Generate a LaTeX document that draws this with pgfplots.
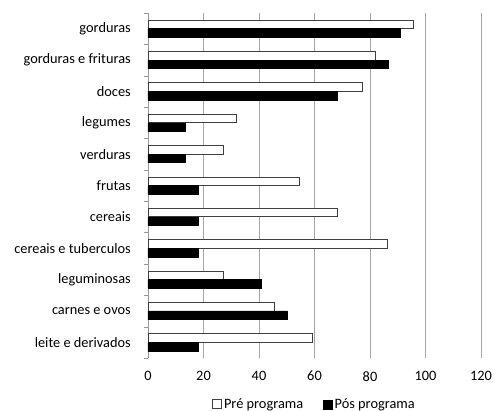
\documentclass[border=0pt]{standalone}
\usepackage{pgfplots}
\pgfplotsset{compat=1.18}
\usepackage{fontspec}
\setmainfont{Carlito}
\begin{document}
\fontsize{14.4}{17}\selectfont
\begin{tikzpicture}
\begin{axis}[
  scale only axis,
  width=333bp, height=345bp,
  xbar,
  xmin=0, xmax=120,
  ymin=-0.5, ymax=10.5,
  y dir=reverse,
  bar width=8.6bp,
  xtick={0,20,...,120},
  ytick={0,...,10},
  yticklabels={gorduras,gorduras e frituras,doces,legumes,verduras,frutas,cereais,cereais e tuberculos,leguminosas,carnes e ovos,leite e derivados},
  minor ytick={-0.5,0.5,...,10.5},
  axis lines*=left,
  x axis line style={draw=none},
  y axis line style={draw=gray!80},
  xmajorgrids,
  grid style={draw=gray!70, line width=0.8pt},
  major x tick style={draw=none},
  major y tick style={draw=none},
  minor y tick style={draw=gray!80},
  tick align=outside,
  minor tick length=4bp,
  yticklabel style={xshift=-8bp},
  xticklabel style={yshift=-4bp},
  /pgf/number format/assume math mode=true,
  ticklabel style={font=\fontsize{14.4}{17}\selectfont},
  legend style={at={(0.5,-0.105)}, anchor=north, draw=none, legend columns=2,
    font=\fontsize{14.4}{17}\selectfont,
    /tikz/every even column/.append style={column sep=18bp}},
  legend image code/.code={\draw[#1] (0bp,-4.5bp) rectangle (9bp,4.5bp);},
]
\addplot[draw=black!75, fill=white, line width=0.8pt, bar shift=4.3bp] coordinates {
(95.5,0) (81.8,1) (77.3,2) (31.8,3) (27.3,4) (54.5,5) (68.2,6) (86.4,7) (27.3,8) (45.5,9) (59.1,10)};
\addplot[draw=black, fill=black, line width=0.5pt, bar shift=-4.3bp] coordinates {
(90.9,0) (86.4,1) (68.2,2) (13.6,3) (13.6,4) (18.2,5) (18.2,6) (18.2,7) (40.9,8) (50.0,9) (18.2,10)};
\legend{Pré programa, Pós programa}
\end{axis}
\pgfresetboundingbox
\path (-148bp,-53bp) rectangle (346bp,358bp);
\end{tikzpicture}
\end{document}
